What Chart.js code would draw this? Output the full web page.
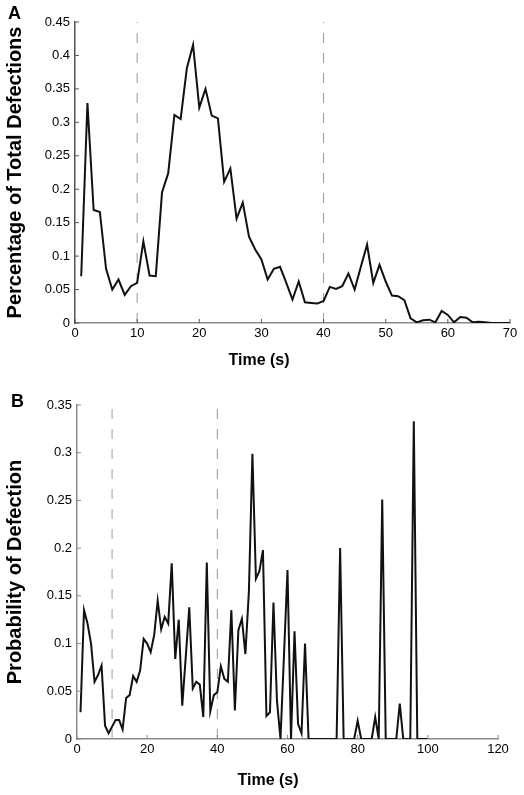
<!DOCTYPE html>
<html>
<head>
<meta charset="utf-8">
<script src="https://cdn.jsdelivr.net/npm/chart.js@4.4.0/dist/chart.umd.min.js"></script>
<style>
  body { margin: 0; background: #fff; }
  canvas { position: absolute; left: 0; }
  #chartA { top: 0; }
  #chartB { top: 385px; }
</style>
</head>
<body>
<canvas id="chartA" width="524" height="385"></canvas>
<canvas id="chartB" width="524" height="410"></canvas>
<script>
// Panel A: share of all defections at each second
const timeA = [1, 2, 3, 4, 5, 6, 7, 8, 9, 10, 11, 12, 13, 14, 15, 16, 17, 18, 19, 20,
  21, 22, 23, 24, 25, 26, 27, 28, 29, 30, 31, 32, 33, 34, 35, 36, 37, 38, 39, 40,
  41, 42, 43, 44, 45, 46, 47, 48, 49, 50, 51, 52, 53, 54, 55, 56, 57, 58, 59, 60,
  61, 62, 63, 64, 65, 66, 67, 68, 69, 70];
const defectionsA = [0.07, 0.329, 0.169, 0.166, 0.081, 0.05, 0.065, 0.042, 0.055, 0.06,
  0.122, 0.071, 0.07, 0.195, 0.224, 0.311, 0.305, 0.381, 0.416, 0.322,
  0.35, 0.31, 0.306, 0.211, 0.231, 0.156, 0.18, 0.129, 0.11, 0.095,
  0.065, 0.081, 0.084, 0.06, 0.035, 0.062, 0.031, 0.03, 0.029, 0.033,
  0.054, 0.051, 0.055, 0.074, 0.05, 0.084, 0.117, 0.06, 0.087, 0.062,
  0.041, 0.04, 0.034, 0.007, 0.001, 0.004, 0.005, 0.001, 0.018, 0.012,
  0.001, 0.009, 0.008, 0.001, 0.002, 0.001, 0, 0, 0, 0];
const xTicksA = [0, 10, 20, 30, 40, 50, 60, 70];
const yTicksA = [0, 0.05, 0.1, 0.15, 0.2, 0.25, 0.3, 0.35, 0.4, 0.45];
const yLabelsA = ['0', '0.05', '0.1', '0.15', '0.2', '0.25', '0.3', '0.35', '0.4', '0.45'];

// Panel B: probability of defecting at each second
const timeB = [1, 2, 3, 4, 5, 6, 7, 8, 9, 10, 11, 12, 13, 14, 15, 16, 17, 18, 19, 20,
  21, 22, 23, 24, 25, 26, 27, 28, 29, 30, 31, 32, 33, 34, 35, 36, 37, 38, 39, 40,
  41, 42, 43, 44, 45, 46, 47, 48, 49, 50, 51, 52, 53, 54, 55, 56, 57, 58, 59, 60,
  61, 62, 63, 64, 65, 66, 67, 68, 69, 70, 71, 72, 73, 74, 75, 76, 77, 78, 79, 80,
  81, 82, 83, 84, 85, 86, 87, 88, 89, 90, 91, 92, 93, 94, 95, 96, 97, 98, 99, 100];
const probabilityB = [0.028, 0.135, 0.121, 0.1, 0.06, 0.067, 0.077, 0.014, 0.006, 0.013,
  0.02, 0.02, 0.01, 0.043, 0.046, 0.066, 0.06, 0.072, 0.105, 0.1,
  0.091, 0.109, 0.145, 0.115, 0.128, 0.121, 0.184, 0.084, 0.125, 0.035,
  0.086, 0.138, 0.053, 0.06, 0.057, 0.023, 0.185, 0.029, 0.046, 0.049,
  0.076, 0.063, 0.06, 0.135, 0.03, 0.114, 0.126, 0.089, 0.155, 0.299,
  0.168, 0.176, 0.198, 0.024, 0.028, 0.143, 0.04, 0, 0.088, 0.177,
  0, 0.113, 0.016, 0.006, 0.1, 0, 0, 0, 0, 0,
  0, 0, 0, 0, 0.2, 0, 0, 0, 0, 0.019,
  0, 0, 0, 0, 0.023, 0, 0.251, 0, 0, 0,
  0, 0.037, 0, 0, 0, 0.333, 0, 0, 0, 0];
const xTicksB = [0, 20, 40, 60, 80, 100, 120];
const yTicksB = [0, 0.05, 0.1, 0.15, 0.2, 0.25, 0.3, 0.35];
const yLabelsB = ['0', '0.05', '0.1', '0.15', '0.2', '0.25', '0.3', '0.35'];

// dashed reference lines (s)
const markerTimes = [10, 40];

const FONT = '"Liberation Sans", Arial, Helvetica, sans-serif';

// letter, x title and the inward tick marks
const panelText = {
  id: 'panelText',
  afterDraw(chart, args, opts) {
    const { ctx, chartArea, scales } = chart;
    ctx.save();
    ctx.lineWidth = 1;
    ctx.strokeStyle = opts.tickColor;
    scales.x.ticks.forEach(t => {
      const px = scales.x.getPixelForValue(t.value);
      ctx.beginPath();
      ctx.moveTo(px, chartArea.bottom);
      ctx.lineTo(px, chartArea.bottom - 4);
      ctx.stroke();
    });
    scales.y.ticks.forEach(t => {
      const py = scales.y.getPixelForValue(t.value);
      ctx.beginPath();
      ctx.moveTo(chartArea.left, py);
      ctx.lineTo(chartArea.left + 4, py);
      ctx.stroke();
    });
    ctx.fillStyle = '#000';
    ctx.textBaseline = 'middle';
    ctx.textAlign = 'left';
    ctx.font = 'bold 18px ' + FONT;
    ctx.fillText(opts.letter, opts.letterX, opts.letterY);
    ctx.textAlign = 'center';
    ctx.font = 'bold 16px ' + FONT;
    ctx.fillText(opts.xTitle, opts.xTitleX, opts.xTitleY);
    ctx.restore();
  }
};

function makePanel(id, cfg) {
  const yMax = cfg.yTicks[cfg.yTicks.length - 1];
  const datasets = [{
    data: cfg.times.map((t, i) => ({ x: t, y: cfg.values[i] })),
    borderColor: '#111',
    borderWidth: 2,
    pointRadius: 0,
    tension: 0
  }];
  markerTimes.forEach(m => {
    datasets.push({
      data: [{ x: m, y: 0 }, { x: m, y: yMax }],
      borderColor: '#9a9a9a',
      borderWidth: 1,
      borderDash: [10, 10],
      pointRadius: 0
    });
  });

  return new Chart(document.getElementById(id), {
    type: 'line',
    data: { datasets },
    plugins: [panelText],
    options: {
      responsive: false,
      animation: false,
      layout: { padding: cfg.padding },
      plugins: {
        legend: { display: false },
        tooltip: { enabled: false },
        panelText: cfg.text
      },
      scales: {
        x: {
          type: 'linear',
          min: 0,
          max: cfg.xTicks[cfg.xTicks.length - 1],
          afterBuildTicks: s => { s.ticks = cfg.xTicks.map(v => ({ value: v })); },
          afterFit: s => {
            s.height = cfg.xHeight;
            s.paddingLeft = s.paddingRight = 0;
          },
          grid: { display: false, drawTicks: false, tickLength: 0 },
          border: { display: true, color: cfg.xBorder, width: 1.5 },
          ticks: {
            padding: 3,
            maxRotation: 0,
            autoSkip: false,
            color: '#000',
            font: { family: FONT, size: 13 }
          }
        },
        y: {
          min: 0,
          max: yMax,
          afterBuildTicks: s => { s.ticks = cfg.yTicks.map(v => ({ value: v })); },
          afterFit: s => {
            s.width = cfg.yWidth;
            s.paddingTop = s.paddingBottom = 0;
          },
          grid: { display: false, drawTicks: false, tickLength: 0 },
          border: { display: true, color: cfg.yBorder, width: 1.5 },
          ticks: {
            padding: 5,
            autoSkip: false,
            color: '#000',
            font: { family: FONT, size: 13 },
            callback: (v, i) => cfg.yLabels[i]
          },
          title: {
            display: true,
            text: cfg.yTitle,
            color: '#000',
            font: { family: FONT, size: cfg.yTitleSize, weight: 'bold' },
            padding: { top: 3, bottom: 0 }
          }
        }
      }
    }
  });
}

makePanel('chartA', {
  times: timeA, values: defectionsA,
  xTicks: xTicksA, yTicks: yTicksA, yLabels: yLabelsA,
  yTitle: 'Percentage of Total Defections', yTitleSize: 20,
  padding: { left: 0, right: 14, top: 22, bottom: 0 },
  yWidth: 75, xHeight: 62,
  xBorder: '#8a8a8a', yBorder: '#555',
  text: { letter: 'A', letterX: 8, letterY: 14, xTitle: 'Time (s)', xTitleX: 259, xTitleY: 361, tickColor: '#555' }
});

makePanel('chartB', {
  times: timeB, values: probabilityB,
  xTicks: xTicksB, yTicks: yTicksB, yLabels: yLabelsB,
  yTitle: 'Probability of Defection', yTitleSize: 20,
  padding: { left: 0, right: 26, top: 20, bottom: 0 },
  yWidth: 77, xHeight: 56,
  xBorder: '#8a8a8a', yBorder: '#8a8a8a',
  text: { letter: 'B', letterX: 11, letterY: 17, xTitle: 'Time (s)', xTitleX: 268, xTitleY: 396, tickColor: '#8a8a8a' }
});
</script>
</body>
</html>
